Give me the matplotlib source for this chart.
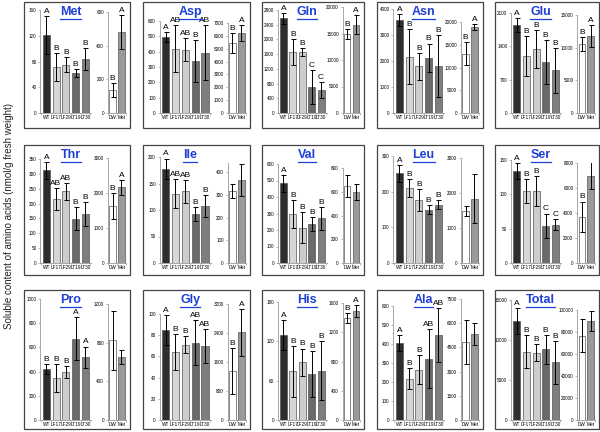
import matplotlib
matplotlib.use('Agg')
import matplotlib.pyplot as plt
from matplotlib.patches import Rectangle
from matplotlib.lines import Line2D

plt.rcParams['font.family'] = ['Liberation Sans', 'DejaVu Sans']

# amino acids, panel order (row by row)
names = ['Met', 'Asp', 'Gln', 'Asn', 'Glu',
         'Thr', 'Ile', 'Val', 'Leu', 'Ser',
         'Pro', 'Gly', 'His', 'Ala', 'Total']

lines = ['WT', 'LF17', 'LF29', 'LT19', 'LT30']
ctl = ['DW', 'Met']

# transgenic lines - mean / error
mut_mean = [
    [121, 71, 75, 62, 84],
    [496, 420, 413, 337, 393],
    [2570, 1656, 1656, 714, 622],
    [3575, 2160, 1800, 2120, 1800],
    [1855, 1200, 1345, 1065, 900],
    [312, 216, 241, 149, 164],
    [178, 131, 135, 93, 107],
    [482, 296, 215, 235, 270],
    [251, 211, 177, 150, 164],
    [134, 105, 105, 54, 56],
    [418, 350, 396, 672, 519],
    [85, 64, 71, 73, 70],
    [130, 74, 88, 70, 75],
    [404, 218, 265, 322, 447],
    [12375, 8540, 8420, 8830, 7210],
]
mut_err = [
    [30, 22, 12, 6, 17],
    [30, 152, 74, 137, 179],
    [155, 348, 119, 457, 220],
    [220, 1054, 515, 553, 1197],
    [145, 420, 395, 460, 470],
    [28, 36, 28, 39, 41],
    [19, 28, 21, 13, 21],
    [49, 85, 95, 41, 71],
    [24, 25, 31, 13, 13],
    [12, 17, 22, 18, 8],
    [41, 115, 52, 178, 88],
    [14, 17, 8, 21, 16],
    [23, 39, 21, 35, 45],
    [43, 55, 75, 156, 144],
    [1667, 2083, 1040, 1790, 2667],
]
mut_letters = [
    ['A', 'B', 'B', 'B', 'B'],
    ['A', 'AB', 'AB', 'B', 'AB'],
    ['A', 'B', 'B', 'C', 'C'],
    ['A', 'B', 'B', 'B', 'B'],
    ['A', 'B', 'B', 'B', 'B'],
    ['A', 'AB', 'AB', 'B', 'B'],
    ['A', 'AB', 'AB', 'B', 'B'],
    ['A', 'B', 'B', 'B', 'B'],
    ['A', 'B', 'B', 'B', 'B'],
    ['A', 'B', 'B', 'C', 'C'],
    ['B', 'B', 'B', 'A', 'A'],
    ['A', 'B', 'B', 'AB', 'AB'],
    ['A', 'B', 'B', 'B', 'B'],
    ['A', 'B', 'B', 'AB', 'AB'],
    ['A', 'B', 'B', 'B', 'B'],
]

# DW / Met treatment - mean / error
ctl_mean = [
    [136, 481], [5433, 6216], [14937, 16645], [13040, 18900], [10550, 11770],
    [1629, 2166], [318, 365], [650, 599], [1485, 1840], [3705, 6980],
    [826, 651], [1349, 2416], [1396, 1487], [4836, 5328], [76577, 90090],
]
ctl_err = [
    [41, 103], [780, 600], [950, 1770], [2490, 730], [1100, 1650],
    [365, 211], [30, 72], [90, 65], [155, 700], [1208, 1073],
    [305, 69], [640, 640], [68, 81], [1373, 700], [15000, 9000],
]
ctl_letters = [
    ['B', 'A'], ['B', 'A'], ['B', 'A'], ['B', 'A'], ['B', 'A'],
    ['B', 'A'], ['', ''], ['', ''], ['', ''], ['B', 'A'],
    ['', ''], ['B', 'A'], ['B', 'A'], ['', ''], ['', ''],
]

# axis ticks: (max, step)
left_ticks = [(160, 40), (600, 100), (2800, 400), (4000, 1000), (2100, 700),
              (350, 50), (200, 50), (600, 100), (300, 100), (150, 50),
              (1000, 200), (100, 20), (180, 60), (600, 100), (15000, 5000)]
right_ticks = [(600, 200), (7000, 1000), (20000, 5000), (20000, 5000), (15000, 5000),
               (3000, 1000), (400, 100), (800, 200), (3000, 1000), (8000, 2000),
               (1200, 400), (3200, 800), (1600, 400), (7500, 1500), (100000, 20000)]

mut_colors = ['#2e2e2e', '#d6d6d6', '#cdcdcd', '#6a6a6a', '#7e7e7e']
ctl_colors = ['#ffffff', '#9a9a9a']

W, H = 600, 432
fig = plt.figure(figsize=(6, 4.32), dpi=100)

# panel boxes (pixels, from top-left)
col_x = [24, 143, 262, 377, 495]
col_w = [106, 107, 102, 106, 104]
row_y = [2, 145, 290]
row_h = [126, 130, 139]
row_bot = [15, 12, 9]
# top of each axes below the box top
left_top = [8, 19, 8, 7, 11, 14, 12, 19, 11, 15, 9, 24, 12, 16, 10]
right_top = [10, 21, 5, 20, 13, 13, 18, 23, 13, 18, 14, 14, 13, 9, 20]


def frect(x, y, w, h):
    return [x / W, 1 - (y + h) / H, w / W, h / H]


def style_ax(ax, ticks, cats, ylim_top=None):
    top, step = ticks
    ax.set_ylim(0, ylim_top if ylim_top else top)
    ax.set_yticks(range(0, top + 1, step))
    ax.set_xticks(range(len(cats)))
    ax.set_xticklabels(cats)
    ax.set_xticks([i + 0.5 for i in range(-1, len(cats))], minor=True)
    ax.tick_params(axis='x', which='major', length=0, pad=1.2, labelsize=3.4)
    ax.tick_params(axis='x', which='minor', length=1.5, width=0.4, color='#888')
    ax.tick_params(axis='y', length=1.5, width=0.4, pad=1.2, labelsize=3.3, color='#888')
    for s in ['top', 'right']:
        ax.spines[s].set_visible(False)
    for s in ['left', 'bottom']:
        ax.spines[s].set_color('#999')
        ax.spines[s].set_linewidth(0.6)
    ax.set_facecolor('none')


titles = []
for k, name in enumerate(names):
    r, c = divmod(k, 5)
    bx, by, bw, bh = col_x[c], row_y[r], col_w[c], row_h[r]
    fig.add_artist(Rectangle((bx / W, 1 - (by + bh) / H), bw / W, bh / H,
                             transform=fig.transFigure, fill=False,
                             ec='#444', lw=0.9))
    bottom = by + bh - row_bot[r]
    ax1 = fig.add_axes(frect(bx + 0.155 * bw, by + left_top[k],
                             0.48 * bw, bottom - by - left_top[k]))
    ax2 = fig.add_axes(frect(bx + 0.79 * bw, by + right_top[k],
                             0.175 * bw, bottom - by - right_top[k]))

    x1 = range(len(lines))
    ax1.bar(x1, mut_mean[k], width=0.72, color=mut_colors,
            edgecolor='#555', linewidth=0.5)
    ax1.errorbar(x1, mut_mean[k], yerr=mut_err[k], fmt='none',
                 ecolor='black', elinewidth=0.7, capsize=1.8, capthick=0.7)
    for i in x1:
        ax1.annotate(mut_letters[k][i], (i, mut_mean[k][i] + mut_err[k][i]),
                     xytext=(0, 0.8), textcoords='offset points',
                     ha='center', va='bottom', fontsize=6, clip_on=False)
    ax1.set_xlim(-0.6, 4.6)
    style_ax(ax1, left_ticks[k], lines)

    x2 = range(len(ctl))
    ax2.bar(x2, ctl_mean[k], width=0.75, color=ctl_colors,
            edgecolor='#555', linewidth=0.5)
    ax2.errorbar(x2, ctl_mean[k], yerr=ctl_err[k], fmt='none',
                 ecolor='black', elinewidth=0.7, capsize=1.8, capthick=0.7)
    for i in x2:
        ax2.annotate(ctl_letters[k][i], (i, ctl_mean[k][i] + ctl_err[k][i]),
                     xytext=(0, 0.8), textcoords='offset points',
                     ha='center', va='bottom', fontsize=6)
    ax2.set_xlim(-0.55, 1.55)
    style_ax(ax2, right_ticks[k], ctl, ylim_top=440 if name == 'Ile' else None)

    t = fig.text((bx + 0.44 * bw) / W, 1 - (by + 10) / H, name,
                 ha='center', va='center', fontsize=9, fontweight='bold',
                 color='#1f3fd6', zorder=10)
    titles.append(t)

fig.text(9 / W, 0.5, 'Soluble content of amino acids (nmol/g fresh weight)',
         rotation=90, ha='center', va='center', fontsize=7, color='#222')

# underline the titles
fig.canvas.draw()
renderer = fig.canvas.get_renderer()
for t in titles:
    bb = t.get_window_extent(renderer)
    yy = (bb.y0 - 0.5) / H
    fig.add_artist(Line2D([bb.x0 / W, bb.x1 / W], [yy, yy], color='#1f3fd6',
                          lw=0.9, transform=fig.transFigure, zorder=10))

fig.savefig('out.png', dpi=100)
